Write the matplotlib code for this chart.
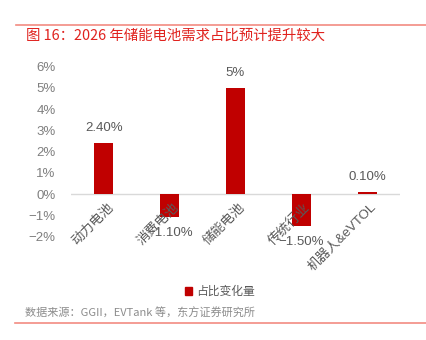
import matplotlib.pyplot as plt
from matplotlib.lines import Line2D
from matplotlib.patches import Patch

plt.rcParams['font.family'] = ['Liberation Sans', 'Noto Sans CJK SC', 'DejaVu Sans']

categories = ["动力电池", "消费电池", "储能电池", "传统行业", "机器人&eVTOL"]
changes = [2.40, -1.10, 5.0, -1.50, 0.10]
value_labels = ["2.40%", "−1.10%", "5%", "−1.50%", "0.10%"]
y_ticks = [-2, -1, 0, 1, 2, 3, 4, 5, 6]

W, H = 426, 340
fig = plt.figure(figsize=(W / 100, H / 100), dpi=100)
ax = fig.add_axes([71 / W, 103.4 / H, 329 / W, 170 / H])

bar_color = "#c00000"
text_gray = "#595959"

x = list(range(len(categories)))
ax.bar(x, changes, width=0.29, color=bar_color, zorder=3)
ax.axhline(0, color="#d9d9d9", lw=1.0, zorder=2)

ax.set_xlim(-0.5, len(categories) - 0.5)
ax.set_ylim(-2, 6)
ax.set_yticks(y_ticks)
ax.set_yticklabels([f"{t}%".replace("-", "−") for t in y_ticks], color="#7f7f7f", fontsize=9.5)
ax.tick_params(axis="y", length=0, pad=11)
ax.set_xticks([])
for s in ax.spines.values():
    s.set_visible(False)

for i, (v, lab) in enumerate(zip(changes, value_labels)):
    off = 0.72 if v >= 0 else -0.75
    ax.text(i, v + off, lab, ha="center", va="center", fontsize=9.5, color=text_gray)
    ax.text(i + 0.05, -0.35, categories[i], rotation=45, rotation_mode="anchor",
            ha="right", va="top", fontsize=9.5, color=text_gray)

fig.legend(handles=[Patch(color=bar_color)], labels=["占比变化量"], loc="center",
           bbox_to_anchor=(220 / W, 1 - 292 / H), frameon=False, fontsize=8.5,
           handlelength=0.6, handleheight=0.6, handletextpad=0.3, labelcolor=text_gray)

fig.text(26 / W, 1 - 36 / H, "图 16：2026 年储能电池需求占比预计提升较大",
         family=["Noto Sans CJK SC", "DejaVu Sans"], fontsize=10.4, color="#e0221e",
         ha="left", va="center")
fig.text(25 / W, 1 - 313 / H, "数据来源：GGII，EVTank 等，东方证券研究所",
         family=["Noto Sans CJK SC", "DejaVu Sans"], fontsize=8, color="#8c8c8c",
         ha="left", va="center")

fig.add_artist(Line2D([16 / W, 1], [1 - 25 / H] * 2, color="#f28b82", lw=1.2))
fig.add_artist(Line2D([15 / W, 1], [1 - 323 / H] * 2, color="#f28b82", lw=1.2))

fig.savefig("out.png", dpi=100, facecolor="white")
